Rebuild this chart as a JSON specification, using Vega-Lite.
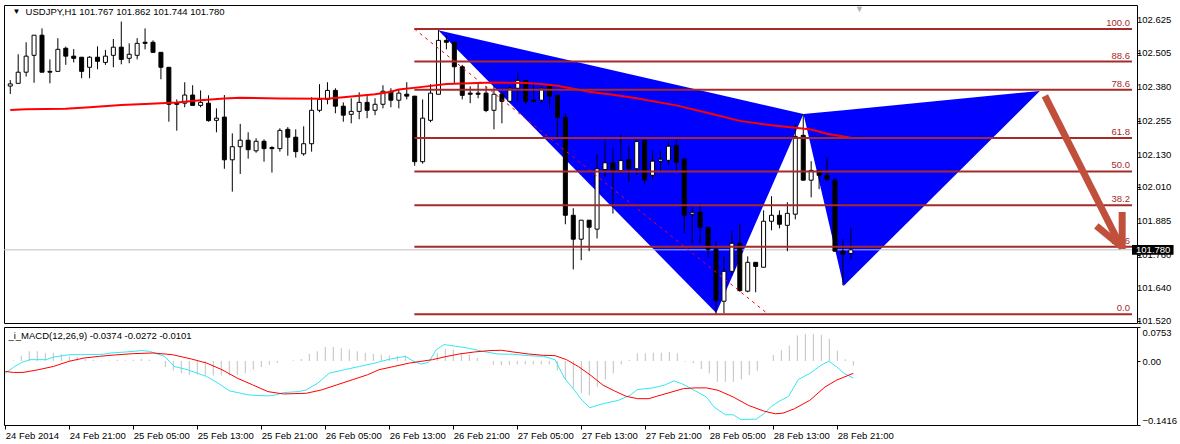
{
  "$schema": "https://vega.github.io/schema/vega-lite/v6.json",
  "background": "white",
  "padding": {"left": 2, "top": 4, "right": 0, "bottom": 0},
  "spacing": 0,
  "config": {
    "font": "Liberation Sans",
    "view": {"stroke": "black", "strokeWidth": 1},
    "text": {"fontSize": 9.5},
    "axis": {"labelFont": "Liberation Sans", "labelFontSize": 9.5, "labelColor": "black", "tickColor": "black", "domainColor": "black", "grid": false, "labelOverlap": false}
  },
  "datasets": {
    "one": [{}],
    "priceticks": [{"p":102.625},{"p":102.505},{"p":102.38},{"p":102.255},{"p":102.13},{"p":102.01},{"p":101.885},{"p":101.76},{"p":101.64},{"p":101.52}],
    "candles": [
      {"i":0,"o":102.382,"h":102.404,"l":102.353,"c":102.390},
      {"i":1,"o":102.392,"h":102.499,"l":102.392,"c":102.433},
      {"i":2,"o":102.433,"h":102.543,"l":102.417,"c":102.492},
      {"i":3,"o":102.495,"h":102.569,"l":102.394,"c":102.569},
      {"i":4,"o":102.569,"h":102.594,"l":102.433,"c":102.433},
      {"i":5,"o":102.436,"h":102.480,"l":102.392,"c":102.433},
      {"i":6,"o":102.436,"h":102.558,"l":102.436,"c":102.517},
      {"i":7,"o":102.521,"h":102.527,"l":102.460,"c":102.492},
      {"i":8,"o":102.492,"h":102.518,"l":102.469,"c":102.484},
      {"i":9,"o":102.488,"h":102.488,"l":102.411,"c":102.436},
      {"i":10,"o":102.451,"h":102.492,"l":102.411,"c":102.488},
      {"i":11,"o":102.488,"h":102.528,"l":102.444,"c":102.473},
      {"i":12,"o":102.469,"h":102.515,"l":102.460,"c":102.492},
      {"i":13,"o":102.495,"h":102.555,"l":102.451,"c":102.525},
      {"i":14,"o":102.525,"h":102.619,"l":102.462,"c":102.480},
      {"i":15,"o":102.484,"h":102.539,"l":102.466,"c":102.499},
      {"i":16,"o":102.495,"h":102.558,"l":102.480,"c":102.539},
      {"i":17,"o":102.543,"h":102.594,"l":102.517,"c":102.539},
      {"i":18,"o":102.543,"h":102.550,"l":102.506,"c":102.506},
      {"i":19,"o":102.506,"h":102.506,"l":102.407,"c":102.451},
      {"i":20,"o":102.451,"h":102.451,"l":102.251,"c":102.315},
      {"i":21,"o":102.320,"h":102.333,"l":102.218,"c":102.315},
      {"i":22,"o":102.319,"h":102.396,"l":102.304,"c":102.349},
      {"i":23,"o":102.349,"h":102.385,"l":102.311,"c":102.311},
      {"i":24,"o":102.311,"h":102.366,"l":102.304,"c":102.322},
      {"i":25,"o":102.319,"h":102.348,"l":102.251,"c":102.255},
      {"i":26,"o":102.256,"h":102.300,"l":102.212,"c":102.264},
      {"i":27,"o":102.268,"h":102.349,"l":102.078,"c":102.111},
      {"i":28,"o":102.111,"h":102.208,"l":101.994,"c":102.159},
      {"i":29,"o":102.159,"h":102.243,"l":102.059,"c":102.183},
      {"i":30,"o":102.183,"h":102.212,"l":102.115,"c":102.148},
      {"i":31,"o":102.144,"h":102.190,"l":102.137,"c":102.179},
      {"i":32,"o":102.179,"h":102.186,"l":102.104,"c":102.152},
      {"i":33,"o":102.156,"h":102.161,"l":102.064,"c":102.152},
      {"i":34,"o":102.152,"h":102.227,"l":102.141,"c":102.219},
      {"i":35,"o":102.223,"h":102.231,"l":102.126,"c":102.194},
      {"i":36,"o":102.194,"h":102.223,"l":102.119,"c":102.141},
      {"i":37,"o":102.133,"h":102.234,"l":102.126,"c":102.170},
      {"i":38,"o":102.170,"h":102.341,"l":102.141,"c":102.293},
      {"i":39,"o":102.293,"h":102.389,"l":102.286,"c":102.333},
      {"i":40,"o":102.333,"h":102.396,"l":102.315,"c":102.366},
      {"i":41,"o":102.366,"h":102.374,"l":102.282,"c":102.308},
      {"i":42,"o":102.308,"h":102.322,"l":102.251,"c":102.275},
      {"i":43,"o":102.278,"h":102.337,"l":102.245,"c":102.289},
      {"i":44,"o":102.289,"h":102.359,"l":102.260,"c":102.322},
      {"i":45,"o":102.322,"h":102.345,"l":102.264,"c":102.293},
      {"i":46,"o":102.293,"h":102.337,"l":102.275,"c":102.315},
      {"i":47,"o":102.315,"h":102.385,"l":102.300,"c":102.363},
      {"i":48,"o":102.363,"h":102.374,"l":102.304,"c":102.330},
      {"i":49,"o":102.330,"h":102.370,"l":102.300,"c":102.356},
      {"i":50,"o":102.352,"h":102.396,"l":102.333,"c":102.345},
      {"i":51,"o":102.345,"h":102.345,"l":102.089,"c":102.104},
      {"i":52,"o":102.104,"h":102.333,"l":102.097,"c":102.264},
      {"i":53,"o":102.256,"h":102.389,"l":102.249,"c":102.356},
      {"i":54,"o":102.352,"h":102.592,"l":102.352,"c":102.550},
      {"i":55,"o":102.550,"h":102.569,"l":102.517,"c":102.543},
      {"i":56,"o":102.543,"h":102.543,"l":102.392,"c":102.453},
      {"i":57,"o":102.453,"h":102.460,"l":102.333,"c":102.348},
      {"i":58,"o":102.356,"h":102.381,"l":102.319,"c":102.352},
      {"i":59,"o":102.356,"h":102.396,"l":102.337,"c":102.352},
      {"i":60,"o":102.356,"h":102.381,"l":102.286,"c":102.292},
      {"i":61,"o":102.293,"h":102.385,"l":102.223,"c":102.352},
      {"i":62,"o":102.352,"h":102.359,"l":102.245,"c":102.326},
      {"i":63,"o":102.326,"h":102.381,"l":102.322,"c":102.374},
      {"i":64,"o":102.374,"h":102.433,"l":102.326,"c":102.403},
      {"i":65,"o":102.403,"h":102.403,"l":102.315,"c":102.326},
      {"i":66,"o":102.330,"h":102.389,"l":102.322,"c":102.326},
      {"i":67,"o":102.330,"h":102.381,"l":102.322,"c":102.374},
      {"i":68,"o":102.381,"h":102.389,"l":102.304,"c":102.345},
      {"i":69,"o":102.348,"h":102.348,"l":102.190,"c":102.267},
      {"i":70,"o":102.267,"h":102.282,"l":101.874,"c":101.907},
      {"i":71,"o":101.907,"h":101.933,"l":101.708,"c":101.819},
      {"i":72,"o":101.819,"h":101.889,"l":101.742,"c":101.889},
      {"i":73,"o":101.889,"h":101.889,"l":101.775,"c":101.863},
      {"i":74,"o":101.856,"h":102.131,"l":101.822,"c":102.078},
      {"i":75,"o":102.075,"h":102.181,"l":102.049,"c":102.100},
      {"i":76,"o":102.100,"h":102.156,"l":101.913,"c":102.071},
      {"i":77,"o":102.071,"h":102.203,"l":102.060,"c":102.108},
      {"i":78,"o":102.111,"h":102.159,"l":102.031,"c":102.078},
      {"i":79,"o":102.078,"h":102.181,"l":102.056,"c":102.178},
      {"i":80,"o":102.181,"h":102.181,"l":102.020,"c":102.037},
      {"i":81,"o":102.054,"h":102.142,"l":102.039,"c":102.106},
      {"i":82,"o":102.106,"h":102.142,"l":102.072,"c":102.113},
      {"i":83,"o":102.109,"h":102.179,"l":102.091,"c":102.161},
      {"i":84,"o":102.164,"h":102.183,"l":102.072,"c":102.102},
      {"i":85,"o":102.113,"h":102.120,"l":101.841,"c":101.907},
      {"i":86,"o":101.911,"h":101.936,"l":101.804,"c":101.918},
      {"i":87,"o":101.918,"h":101.951,"l":101.804,"c":101.863},
      {"i":88,"o":101.863,"h":101.863,"l":101.751,"c":101.782},
      {"i":89,"o":101.782,"h":101.811,"l":101.543,"c":101.594},
      {"i":90,"o":101.591,"h":101.756,"l":101.547,"c":101.701},
      {"i":91,"o":101.701,"h":101.848,"l":101.686,"c":101.804},
      {"i":92,"o":101.804,"h":101.874,"l":101.626,"c":101.630},
      {"i":93,"o":101.628,"h":101.756,"l":101.624,"c":101.734},
      {"i":94,"o":101.734,"h":101.734,"l":101.624,"c":101.719},
      {"i":95,"o":101.716,"h":101.925,"l":101.716,"c":101.885},
      {"i":96,"o":101.885,"h":101.977,"l":101.852,"c":101.907},
      {"i":97,"o":101.907,"h":101.925,"l":101.859,"c":101.874},
      {"i":98,"o":101.870,"h":101.955,"l":101.775,"c":101.914},
      {"i":99,"o":101.911,"h":102.242,"l":101.892,"c":102.197},
      {"i":100,"o":102.201,"h":102.279,"l":102.036,"c":102.036},
      {"i":101,"o":102.036,"h":102.106,"l":101.973,"c":102.072},
      {"i":102,"o":102.072,"h":102.072,"l":102.003,"c":102.054},
      {"i":103,"o":102.054,"h":102.120,"l":102.032,"c":102.039},
      {"i":104,"o":102.036,"h":102.043,"l":101.775,"c":101.775},
      {"i":105,"o":101.775,"h":101.819,"l":101.650,"c":101.764},
      {"i":106,"o":101.767,"h":101.862,"l":101.744,"c":101.780}
    ],
    "ma": [
      {"i":0,"v":102.294},{"i":2,"v":102.297},{"i":7,"v":102.299},{"i":10,"v":102.304},{"i":14,"v":102.312},
      {"i":17,"v":102.316},{"i":21,"v":102.322},{"i":24,"v":102.330},{"i":27,"v":102.336},{"i":29,"v":102.339},
      {"i":34,"v":102.336},{"i":40,"v":102.335},{"i":42,"v":102.341},{"i":44,"v":102.346},{"i":46,"v":102.352},
      {"i":48,"v":102.361},{"i":49,"v":102.369},{"i":52,"v":102.379},{"i":55,"v":102.390},{"i":61,"v":102.395},
      {"i":65,"v":102.393},{"i":67,"v":102.390},{"i":69,"v":102.383},{"i":71,"v":102.372},{"i":73,"v":102.361},
      {"i":76,"v":102.350},{"i":79,"v":102.337},{"i":80,"v":102.332},{"i":84,"v":102.311},{"i":88,"v":102.283},
      {"i":92,"v":102.254},{"i":96,"v":102.238},{"i":99,"v":102.229},{"i":101,"v":102.222},{"i":103,"v":102.207},
      {"i":106,"v":102.192}
    ],
    "pattern": [
      {"leg":"XAB","i":53.97,"top":102.587,"bottom":102.587},
      {"leg":"XAB","i":89.03,"top":102.353,"bottom":101.548},
      {"leg":"XAB","i":100.03,"top":102.279,"bottom":102.279},
      {"leg":"BCD","i":100.03,"top":102.279,"bottom":102.279},
      {"leg":"BCD","i":105.09,"top":102.293,"bottom":101.647},
      {"leg":"BCD","i":129.84,"top":102.364,"bottom":102.364}
    ],
    "fib": [
      {"level":"100.0","price":102.592},
      {"level":"88.6","price":102.472},
      {"level":"78.6","price":102.368},
      {"level":"61.8","price":102.191},
      {"level":"50.0","price":102.068},
      {"level":"38.2","price":101.944},
      {"level":"23.6","price":101.791},
      {"level":"0.0","price":101.543}
    ],
    "fibline": [
      {"i":50.96,"price":102.592},
      {"i":95.6,"price":101.543}
    ],
    "arrow": [
      {"x1":130.47,"y1":102.346,"x2":139.84,"y2":101.805},
      {"x1":140.22,"y1":101.919,"x2":140.22,"y2":101.783},
      {"x1":136.96,"y1":101.868,"x2":140.22,"y2":101.790}
    ],
    "hist": [
      {"i":0,"v":0.001},{"i":1,"v":0.0015},{"i":2,"v":0.012},{"i":3,"v":0.0216},{"i":4,"v":0.0216},
      {"i":5,"v":0.018},{"i":6,"v":0.018},{"i":7,"v":0.0156},{"i":8,"v":0.0104},{"i":9,"v":0.009},
      {"i":10,"v":0.005},{"i":11,"v":0.003},{"i":12,"v":0.001},{"i":13,"v":0.001},{"i":14,"v":0.003},
      {"i":15,"v":0.0015},{"i":16,"v":0.003},{"i":17,"v":0.005},{"i":18,"v":0.003},{"i":19,"v":0.0},
      {"i":20,"v":-0.0134},{"i":21,"v":-0.0208},{"i":22,"v":-0.0268},{"i":23,"v":-0.0305},{"i":24,"v":-0.0305},
      {"i":25,"v":-0.032},{"i":26,"v":-0.032},{"i":27,"v":-0.032},{"i":28,"v":-0.032},{"i":29,"v":-0.0305},
      {"i":30,"v":-0.0268},{"i":31,"v":-0.0193},{"i":32,"v":-0.0134},{"i":33,"v":-0.0082},{"i":34,"v":-0.0045},
      {"i":35,"v":-0.0007},{"i":36,"v":0.0015},{"i":37,"v":0.0045},{"i":38,"v":0.0156},{"i":39,"v":0.0216},
      {"i":40,"v":0.0312},{"i":41,"v":0.0312},{"i":42,"v":0.0283},{"i":43,"v":0.0253},{"i":44,"v":0.0216},
      {"i":45,"v":0.018},{"i":46,"v":0.0156},{"i":47,"v":0.0141},{"i":48,"v":0.0126},{"i":49,"v":0.0112},
      {"i":50,"v":0.0119},{"i":51,"v":0.0015},{"i":52,"v":-0.0007},{"i":53,"v":0.0},{"i":54,"v":0.018},
      {"i":55,"v":0.0268},{"i":56,"v":0.0253},{"i":57,"v":0.018},{"i":58,"v":0.0141},{"i":59,"v":0.0067},
      {"i":60,"v":0.0},{"i":61,"v":-0.0082},{"i":62,"v":-0.0097},{"i":63,"v":-0.009},{"i":64,"v":-0.0074},
      {"i":65,"v":-0.0074},{"i":66,"v":-0.0074},{"i":67,"v":-0.0074},{"i":68,"v":-0.0074},{"i":69,"v":-0.0208},
      {"i":70,"v":-0.0416},{"i":71,"v":-0.0602},{"i":72,"v":-0.0707},{"i":73,"v":-0.0759},{"i":74,"v":-0.0573},
      {"i":75,"v":-0.0409},{"i":76,"v":-0.0275},{"i":77,"v":-0.0074},{"i":78,"v":0.0022},{"i":79,"v":0.0171},
      {"i":80,"v":0.0171},{"i":81,"v":0.0186},{"i":82,"v":0.0186},{"i":83,"v":0.0201},{"i":84,"v":0.0171},
      {"i":85,"v":-0.0015},{"i":86,"v":-0.0052},{"i":87,"v":-0.0178},{"i":88,"v":-0.0275},{"i":89,"v":-0.0461},
      {"i":90,"v":-0.0461},{"i":91,"v":-0.0461},{"i":92,"v":-0.0409},{"i":93,"v":-0.0312},{"i":94,"v":-0.0216},
      {"i":95,"v":-0.0007},{"i":96,"v":0.0134},{"i":97,"v":0.0245},{"i":98,"v":0.0342},{"i":99,"v":0.0565},
      {"i":100,"v":0.0602},{"i":101,"v":0.0602},{"i":102,"v":0.058},{"i":103,"v":0.0491},{"i":104,"v":0.0231},
      {"i":105,"v":0.0037},{"i":106,"v":-0.0101}
    ],
    "cyan": [
      {"i":0,"v":-0.0268},{"i":1.01,"v":-0.0141},{"i":2.07,"v":-0.003},{"i":3.07,"v":0.003},{"i":5.08,"v":0.003},
      {"i":6.08,"v":0.0089},{"i":8.09,"v":0.0141},{"i":10.1,"v":0.0141},{"i":12.26,"v":0.0149},{"i":13.21,"v":0.0178},
      {"i":15.13,"v":0.0201},{"i":17.04,"v":0.0231},{"i":18,"v":0.0216},{"i":19.91,"v":0.0104},{"i":21.11,"v":-0.0119},
      {"i":22.78,"v":-0.0193},{"i":25.17,"v":-0.0342},{"i":26.61,"v":-0.0491},{"i":28.05,"v":-0.0662},{"i":30.44,"v":-0.0751},
      {"i":32.83,"v":-0.0773},{"i":33.79,"v":-0.0751},{"i":34.75,"v":-0.0699},{"i":36.66,"v":-0.0677},{"i":37.61,"v":-0.064},
      {"i":39.05,"v":-0.0491},{"i":40.49,"v":-0.0268},{"i":42.4,"v":-0.0193},{"i":44.31,"v":-0.0119},{"i":46.2,"v":-0.0045},
      {"i":48.14,"v":0.0045},{"i":50.05,"v":0.0104},{"i":51.01,"v":-0.0007},{"i":51.97,"v":-0.0067},{"i":52.92,"v":-0.003},
      {"i":53.88,"v":0.0253},{"i":54.84,"v":0.0364},{"i":56.28,"v":0.0327},{"i":57.71,"v":0.029},{"i":59.63,"v":0.0216},
      {"i":61.54,"v":0.0156},{"i":63.45,"v":0.0149},{"i":65.37,"v":0.0119},{"i":67.28,"v":0.0104},{"i":68.71,"v":0.003},
      {"i":69.9,"v":-0.0379},{"i":71.11,"v":-0.064},{"i":72.07,"v":-0.0863},{"i":73.05,"v":-0.1034},{"i":74.72,"v":-0.0945},
      {"i":76.64,"v":-0.087},{"i":78.07,"v":-0.0759},{"i":79.03,"v":-0.0632},{"i":80.94,"v":-0.0595},{"i":82.38,"v":-0.0535},
      {"i":83.57,"v":-0.0439},{"i":84.53,"v":-0.0498},{"i":85.72,"v":-0.061},{"i":87.64,"v":-0.0796},{"i":88.6,"v":-0.1019},
      {"i":90.03,"v":-0.119},{"i":90.99,"v":-0.119},{"i":91.94,"v":-0.1294},{"i":93.86,"v":-0.1287},{"i":94.81,"v":-0.1168},
      {"i":95.77,"v":-0.1004},{"i":96.73,"v":-0.0892},{"i":97.92,"v":-0.0781},{"i":99.12,"v":-0.0409},{"i":100.56,"v":-0.0275},
      {"i":101.99,"v":-0.0089},{"i":102.95,"v":-0.0007},{"i":103.9,"v":-0.0126},{"i":104.86,"v":-0.0275},{"i":106,"v":-0.0374}
    ],
    "red": [
      {"i":0,"v":-0.0231},{"i":1.01,"v":-0.0253},{"i":2.21,"v":-0.0253},{"i":4.12,"v":-0.0193},{"i":6.04,"v":-0.0119},
      {"i":7.95,"v":-0.0007},{"i":9.86,"v":0.0067},{"i":11.78,"v":0.0104},{"i":13.69,"v":0.0134},{"i":16.08,"v":0.0164},
      {"i":18.48,"v":0.0178},{"i":20.87,"v":0.0141},{"i":23.26,"v":0.0045},{"i":25.17,"v":-0.0045},{"i":27.09,"v":-0.0193},
      {"i":29,"v":-0.0379},{"i":30.92,"v":-0.0528},{"i":32.83,"v":-0.0677},{"i":34.75,"v":-0.0729},{"i":37.61,"v":-0.0714},
      {"i":39.53,"v":-0.064},{"i":41.44,"v":-0.0528},{"i":43.36,"v":-0.0416},{"i":45.27,"v":-0.0305},{"i":46.71,"v":-0.0193},
      {"i":48.62,"v":-0.0119},{"i":50.53,"v":-0.0045},{"i":51.97,"v":-0.0007},{"i":53.4,"v":0.003},{"i":54.84,"v":0.0089},
      {"i":56.75,"v":0.0156},{"i":58.67,"v":0.0201},{"i":60.58,"v":0.0231},{"i":62.02,"v":0.0238},{"i":63.45,"v":0.0201},
      {"i":65.37,"v":0.0156},{"i":67.28,"v":0.0126},{"i":68.71,"v":0.0119},{"i":70.15,"v":0.003},{"i":71.7,"v":-0.013},
      {"i":73.2,"v":-0.032},{"i":74.72,"v":-0.0535},{"i":76.16,"v":-0.0662},{"i":77.59,"v":-0.0781},{"i":79.03,"v":-0.0833},
      {"i":80.46,"v":-0.0833},{"i":81.42,"v":-0.0781},{"i":83.33,"v":-0.0684},{"i":84.77,"v":-0.061},{"i":86.21,"v":-0.0595},
      {"i":87.64,"v":-0.0595},{"i":89.08,"v":-0.0647},{"i":90.99,"v":-0.0796},{"i":92.9,"v":-0.0982},{"i":94.82,"v":-0.1108},
      {"i":96.25,"v":-0.1168},{"i":97.21,"v":-0.1153},{"i":98.64,"v":-0.1056},{"i":100.56,"v":-0.087},{"i":102.47,"v":-0.0573},
      {"i":103.9,"v":-0.0424},{"i":106,"v":-0.0272}
    ]
  },
  "vconcat": [
    {
      "width": 1133,
      "height": 318,
      "layer": [
        {
          "data": {"name": "pattern"},
          "mark": {"type": "area", "color": "#0000ff", "opacity": 1, "clip": true},
          "encoding": {
            "x": {"field": "i", "type": "quantitative", "scale": {"domain": [-0.16, 141.46], "nice": false, "zero": false},
                  "axis": {"title": null, "labels": false, "ticks": false, "domain": false, "minExtent": 0, "maxExtent": 0, "offset": 0, "labelPadding": 0}},
            "y": {"field": "top", "type": "quantitative", "stack": null, "scale": {"domain": [101.511, 102.68], "nice": false, "zero": false},
                  "axis": {"orient": "right", "title": null, "domain": false, "values": [102.625, 102.505, 102.38, 102.255, 102.13, 102.01, 101.885, 101.76, 101.64, 101.52], "tickSize": 3, "labels": false}},
            "y2": {"field": "bottom"},
            "detail": {"field": "leg"}
          }
        },
        {
          "data": {"name": "one"},
          "mark": {"type": "rule", "color": "#c0c0c0", "strokeWidth": 1},
          "encoding": {"y": {"datum": 101.78}}
        },
        {
          "data": {"name": "candles"},
          "mark": {"type": "rule", "color": "black", "strokeWidth": 1, "clip": true},
          "encoding": {
            "x": {"field": "i", "type": "quantitative"},
            "y": {"field": "l", "type": "quantitative"},
            "y2": {"field": "h"}
          }
        },
        {
          "data": {"name": "candles"},
          "mark": {"type": "bar", "width": 4, "stroke": "black", "strokeWidth": 1, "clip": true, "orient": "vertical"},
          "encoding": {
            "x": {"field": "i", "type": "quantitative"},
            "y": {"field": "o", "type": "quantitative", "stack": null},
            "y2": {"field": "c"},
            "fill": {"condition": {"test": "datum.c > datum.o", "value": "white"}, "value": "black"}
          }
        },
        {
          "data": {"name": "ma"},
          "mark": {"type": "line", "color": "#ff0000", "strokeWidth": 2, "clip": true},
          "encoding": {
            "x": {"field": "i", "type": "quantitative"},
            "y": {"field": "v", "type": "quantitative"}
          }
        },
        {
          "data": {"name": "fib"},
          "mark": {"type": "rule", "color": "#a52a2a", "strokeWidth": 2},
          "encoding": {
            "x": {"datum": 50.96},
            "x2": {"datum": 141.46},
            "y": {"field": "price", "type": "quantitative"}
          }
        },
        {
          "data": {"name": "fib"},
          "mark": {"type": "text", "align": "right", "baseline": "bottom", "dy": -1, "fontSize": 9.5, "color": "#a52a2a"},
          "encoding": {
            "x": {"datum": 141.2},
            "y": {"field": "price", "type": "quantitative"},
            "text": {"field": "level"}
          }
        },
        {
          "data": {"name": "fibline"},
          "mark": {"type": "line", "color": "#ff0000", "strokeWidth": 1, "strokeDash": [3, 4]},
          "encoding": {
            "x": {"field": "i", "type": "quantitative"},
            "y": {"field": "price", "type": "quantitative"}
          }
        },
        {
          "data": {"name": "arrow"},
          "mark": {"type": "rule", "color": "#c0503c", "strokeWidth": 7, "strokeCap": "butt"},
          "encoding": {
            "x": {"field": "x1", "type": "quantitative"},
            "y": {"field": "y1", "type": "quantitative"},
            "x2": {"field": "x2"},
            "y2": {"field": "y2"}
          }
        },
        {
          "data": {"name": "one"},
          "mark": {"type": "text", "align": "left", "baseline": "middle", "fontSize": 9.5, "color": "black"},
          "encoding": {
            "x": {"datum": 1.93},
            "y": {"datum": 102.654},
            "text": {"value": "USDJPY,H1  101.767 101.862 101.744 101.780"}
          }
        },
        {
          "data": {"name": "one"},
          "mark": {"type": "text", "align": "center", "baseline": "middle", "fontSize": 8, "color": "black"},
          "encoding": {
            "x": {"datum": 0.78},
            "y": {"datum": 102.654},
            "text": {"value": "▼"}
          }
        },
        {
          "data": {"name": "one"},
          "mark": {"type": "text", "align": "center", "baseline": "top", "fontSize": 9, "color": "#b0b0b0"},
          "encoding": {
            "x": {"datum": 107.1},
            "y": {"datum": 102.68},
            "text": {"value": "▼"}
          }
        },
        {
          "data": {"name": "priceticks"},
          "mark": {"type": "text", "align": "left", "baseline": "middle", "dx": 5, "fontSize": 9.5, "color": "black"},
          "encoding": {
            "x": {"datum": 141.46},
            "y": {"field": "p", "type": "quantitative"},
            "text": {"field": "p", "type": "quantitative", "format": ".3f"}
          }
        },
        {
          "data": {"name": "one"},
          "mark": {"type": "rect", "color": "black"},
          "encoding": {
            "x": {"datum": 141.46},
            "x2": {"datum": 146.7},
            "y": {"datum": 101.798},
            "y2": {"datum": 101.762}
          }
        },
        {
          "data": {"name": "one"},
          "mark": {"type": "text", "align": "left", "baseline": "middle", "fontSize": 9.5, "color": "white"},
          "encoding": {
            "x": {"datum": 141.97},
            "y": {"datum": 101.78},
            "text": {"value": "101.780"}
          }
        }
      ]
    },
    {
      "width": 1133,
      "height": 98,
      "layer": [
        {
          "data": {"name": "hist"},
          "mark": {"type": "rule", "color": "#c0c0c0", "strokeWidth": 1},
          "encoding": {
            "x": {"field": "i", "type": "quantitative", "scale": {"domain": [-0.16, 141.46], "nice": false, "zero": false},
                  "axis": {"orient": "bottom", "title": null, "domain": false, "values": [0, 8, 16, 24, 32, 40, 48, 56, 64, 72, 80, 88, 96, 104], "labelAlign": "left", "tickSize": 4, "labelPadding": 1, "labelOverlap": false,
                           "labelExpr": "['24 Feb 2014','24 Feb 21:00','25 Feb 05:00','25 Feb 13:00','25 Feb 21:00','26 Feb 05:00','26 Feb 13:00','26 Feb 21:00','27 Feb 05:00','27 Feb 13:00','27 Feb 21:00','28 Feb 05:00','28 Feb 13:00','28 Feb 21:00'][round(datum.value/8)]"}},
            "y": {"field": "v", "type": "quantitative", "scale": {"domain": [-0.1416, 0.0753], "nice": false, "zero": false},
                  "axis": {"orient": "right", "title": null, "domain": false, "values": [0.0753, 0, -0.1416], "labelFlush": true, "tickSize": 3, "labelPadding": 2, "labelOverlap": false,
                           "labelExpr": "datum.value == 0 ? '0.00' : format(datum.value, '.4f')"}},
            "y2": {"datum": 0}
          }
        },
        {
          "data": {"name": "cyan"},
          "mark": {"type": "line", "color": "#35e6f2", "strokeWidth": 1},
          "encoding": {
            "x": {"field": "i", "type": "quantitative"},
            "y": {"field": "v", "type": "quantitative"}
          }
        },
        {
          "data": {"name": "red"},
          "mark": {"type": "line", "color": "#ff0000", "strokeWidth": 1},
          "encoding": {
            "x": {"field": "i", "type": "quantitative"},
            "y": {"field": "v", "type": "quantitative"}
          }
        },
        {
          "data": {"name": "one"},
          "mark": {"type": "text", "align": "left", "baseline": "middle", "fontSize": 9.5, "color": "black"},
          "encoding": {
            "x": {"datum": 0.39},
            "y": {"datum": 0.055},
            "text": {"value": "_i_MACD(12,26,9) -0.0374 -0.0272 -0.0101"}
          }
        }
      ]
    }
  ]
}
